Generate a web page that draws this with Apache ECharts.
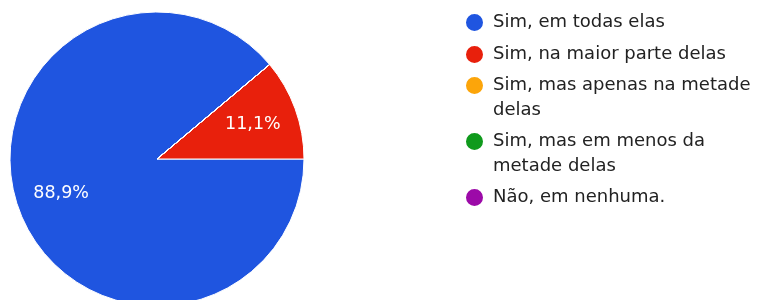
<!DOCTYPE html>
<html>
<head>
  <meta charset="utf-8">
  <title>respostas</title>
  <script src="https://cdn.jsdelivr.net/npm/echarts@6/dist/echarts.min.js"></script>
  <style>
    html, body { margin: 0; padding: 0; background: #fff; }
  </style>
</head>
<body>
  <div id="main" style="width: 760px;height:300px;"></div>

  <script type="text/javascript">
    // categorias e contagens (8 de 9 = 88,9%, 1 de 9 = 11,1%)
    var categories = [
      'Sim, em todas elas',
      'Sim, na maior parte delas',
      'Sim, mas apenas na metade delas',
      'Sim, mas em menos da metade delas',
      'Não, em nenhuma.'
    ]
    var counts = [8, 1, 0, 0, 0]
    var colors = ['#1f55e0', '#e8200c', '#fca50a', '#0f9a1c', '#9c0aa8']

    var pieData = []
    for (var i = 0; i < categories.length; i++) {
      pieData.push({ name: categories[i], value: counts[i] })
    }

    var myChart = echarts.init(document.getElementById('main'))

    var fontFamily = 'DejaVu Sans'

    // círculo no topo de uma caixa alta: o ícone fica alinhado com a 1ª linha
    var tallCircle = 'path://M0,9.5A9.5,9.5,0,1,1,19,9.5A9.5,9.5,0,1,1,0,9.5ZM9.5,43.5L9.5,44'

    // legenda: um componente por grupo de itens
    function legendFor(names, top, gap, tall) {
      return {
        orient: 'vertical',
        left: 464,
        top: top,
        padding: 0,
        itemGap: gap,
        icon: tall ? tallCircle : 'circle',
        itemWidth: 19,
        itemHeight: tall ? 44 : 19,
        selectedMode: false,
        data: names,
        textStyle: {
          fontFamily: fontFamily,
          fontSize: 18,
          color: '#222',
          lineHeight: 25,
          width: 266,
          overflow: 'break',
          padding: [0, 0, 0, 4]
        }
      }
    }

    function pctLabel(p) {
      if (!p.value) return ''
      return p.percent.toFixed(1).replace('.', ',') + '%'
    }

    var option = {
      color: colors,
      animation: false,
      legend: [
        legendFor([categories[0], categories[1]], 10, 7, false),
        legendFor([categories[2], categories[3]], 73, 6, true),
        legendFor([categories[4]], 185, 7, false)
      ],
      series: [{
        type: 'pie',
        center: [157, 159],
        radius: [0, 147],
        startAngle: 40,
        clockwise: false,
        data: pieData,
        label: { show: false },
        labelLine: { show: false },
        itemStyle: { borderColor: '#fff', borderWidth: 1 },
        emphasis: { disabled: true }
      }, {
        // só os rótulos de percentagem, a ~2/3 do raio
        type: 'pie',
        center: [157, 159],
        radius: [0, 198],
        startAngle: 40,
        clockwise: false,
        silent: true,
        data: pieData,
        itemStyle: { color: 'rgba(0,0,0,0)', borderWidth: 0 },
        label: {
          show: true,
          position: 'inside',
          formatter: pctLabel,
          color: '#fff',
          fontFamily: fontFamily,
          fontSize: 17.5
        },
        labelLine: { show: false },
        emphasis: { disabled: true }
      }]
    }

    myChart.setOption(option)
  </script>
</body>
</html>
